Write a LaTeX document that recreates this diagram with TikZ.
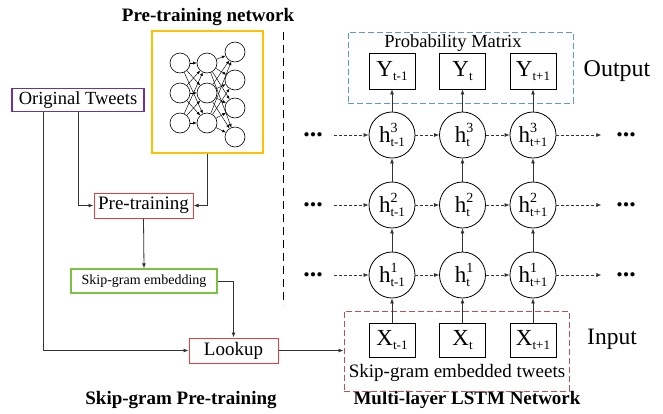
\documentclass[tikz,border=0pt]{standalone}
\usepackage{fontspec}
\setmainfont{Liberation Serif}
\usetikzlibrary{arrows.meta}
\definecolor{cgold}{HTML}{FFC000}
\definecolor{cpurple}{HTML}{7030A0}
\definecolor{cred}{HTML}{EE3B3B}
\definecolor{cgreen}{HTML}{7CC242}
\definecolor{cblue}{HTML}{5B9BD5}
\definecolor{cdred}{HTML}{C0504D}
\definecolor{cline}{HTML}{333333}
\newcommand\hlab[2]{h\rlap{\raisebox{0.42em}{\fontsize{14}{14}\selectfont #1}}\raisebox{-0.2em}{\fontsize{13}{13}\selectfont #2}}
\newcommand\vlab[2]{#1\raisebox{-0.15em}{\fontsize{13}{13}\selectfont #2}}
\tikzset{
  box/.style={draw, line width=1pt, inner sep=0pt, align=center},
  conn/.style={draw=cline, line width=0.8pt, -{Latex[length=5pt,width=4pt]}},
  dconn/.style={draw=cline, line width=0.7pt, densely dashed, -{Latex[length=5pt,width=4pt]}},
  nn/.style={draw, circle, minimum size=20pt, inner sep=0pt, line width=0.6pt},
  nnedge/.style={line width=0.45pt, -{Latex[length=3.5pt,width=3pt]}},
  hcell/.style={draw, circle, minimum size=46pt, inner sep=0pt, line width=0.8pt, font=\fontsize{23}{23}\selectfont},
  vbox/.style={draw, line width=0.8pt, minimum width=46pt, inner sep=0pt, font=\fontsize{23}{23}\selectfont},
  dots/.style={font=\fontsize{26}{26}\selectfont\bfseries, inner sep=0pt},
  title/.style={font=\fontsize{19}{19}\selectfont\bfseries}
}
\begin{document}
\begin{tikzpicture}[x=1pt,y=-1pt]
\useasboundingbox (0,0) rectangle (663,413);
% titles
\node[title] (t1) at (208,17) {Pre-training network};
\node[title] (t2) at (181,400) {Skip-gram Pre-training};
\node[title] (t3) at (467,400) {Multi-layer LSTM Network};
% separator
\draw[line width=0.8pt, dash pattern=on 8pt off 5pt] (283,32) -- (283,305);
% left side boxes
\node[box, draw=cgold, line width=1.3pt, minimum width=111pt, minimum height=122pt] (net) at (207.5,92) {};
\node[box, draw=cpurple, line width=1.3pt, minimum width=132pt, minimum height=23pt, font=\fontsize{18.5}{18.5}\selectfont] (ot) at (78,100) {Original Tweets};
\node[box, draw=cred, minimum width=99pt, minimum height=25pt, font=\fontsize{19}{19}\selectfont] (pt) at (143.5,205.5) {Pre-training};
\node[box, draw=cgreen, line width=1.3pt, minimum width=146pt, minimum height=24pt, font=\fontsize{14}{14}\selectfont] (sg) at (144,281) {Skip-gram embedding};
\node[box, draw=cred, minimum width=89pt, minimum height=25pt, font=\fontsize{19}{19}\selectfont] (lk) at (233.5,350.5) {Lookup};
% neural net
\foreach \i/\y in {1/63,2/93,3/123}{
  \node[nn] (a\i) at (180,\y) {};
  \node[nn] (b\i) at (207,\y) {};
}
\foreach \i/\y in {1/52,2/80,3/108,4/137}{
  \node[nn] (c\i) at (235,\y) {};
}
\foreach \i in {1,2,3}{\foreach \j in {1,2,3}{\draw[nnedge] (a\i) -- (b\j);}}
\foreach \i in {1,2,3}{\foreach \j in {1,2,3,4}{\draw[nnedge] (b\i) -- (c\j);}}
% left connectors
\draw[conn] (ot.south -| 78,0) |- (pt.west);
\draw[conn] (net.south) |- (pt.east);
\draw[conn] (pt.south) -- (sg.north);
\draw[conn] (sg.east) -| (lk.north);
\draw[conn] (ot.south -| 43,0) |- (lk.west);
% right side
\node[draw=cblue, line width=1pt, dash pattern=on 6pt off 3pt, minimum width=225pt, minimum height=71pt, inner sep=0pt] (pm) at (460.5,67.5) {};
\node[font=\fontsize{18.5}{18.5}\selectfont, inner sep=0pt] (pmt) at (453,43) {Probability Matrix};
\node[draw=cdred, line width=1pt, dash pattern=on 6pt off 3pt, minimum width=225pt, minimum height=80pt, inner sep=0pt] (in) at (456.5,351) {};
\node[font=\fontsize{19}{19}\selectfont, inner sep=0pt] (set) at (457,373) {Skip-gram embedded tweets};
\node[font=\fontsize{24}{24}\selectfont, inner sep=0pt] (outl) at (617,71) {Output};
\node[font=\fontsize{23.5}{23.5}\selectfont, inner sep=0pt] (inl) at (612,339) {Input};
\draw[conn] (lk.east) -- (lk.east -| in.west);
\foreach \c/\x/\s in {1/392/t-1,2/462.5/t,3/533/t+1}{
  \node[vbox, minimum height=36pt] (y\c) at (\x,71) {\vlab{Y}{\s}};
  \node[vbox, minimum height=34pt] (x\c) at (\x,340) {\vlab{X}{\s}};
  \node[hcell] (h3\c) at (\x,135) {\hlab{3}{\s}};
  \node[hcell] (h2\c) at (\x,205) {\hlab{2}{\s}};
  \node[hcell] (h1\c) at (\x,275) {\hlab{1}{\s}};
  \draw[conn] (x\c) -- (h1\c);
  \draw[conn] (h1\c) -- (h2\c);
  \draw[conn] (h2\c) -- (h3\c);
  \draw[conn] (h3\c) -- (y\c);
}
\foreach \r/\y in {3/135,2/205,1/275}{
  \node[dots] (dl\r) at (313,\y) {...};
  \node[dots] (dr\r) at (626,\y) {...};
  \draw[dconn] (dl\r.east) ++(11,0) -- (h\r1.west);
  \draw[dconn] (h\r1) -- (h\r2);
  \draw[dconn] (h\r2) -- (h\r3);
  \draw[dconn] (h\r3.east) -- ++(45,0) coordinate (e\r);
}
\end{tikzpicture}
\end{document}
